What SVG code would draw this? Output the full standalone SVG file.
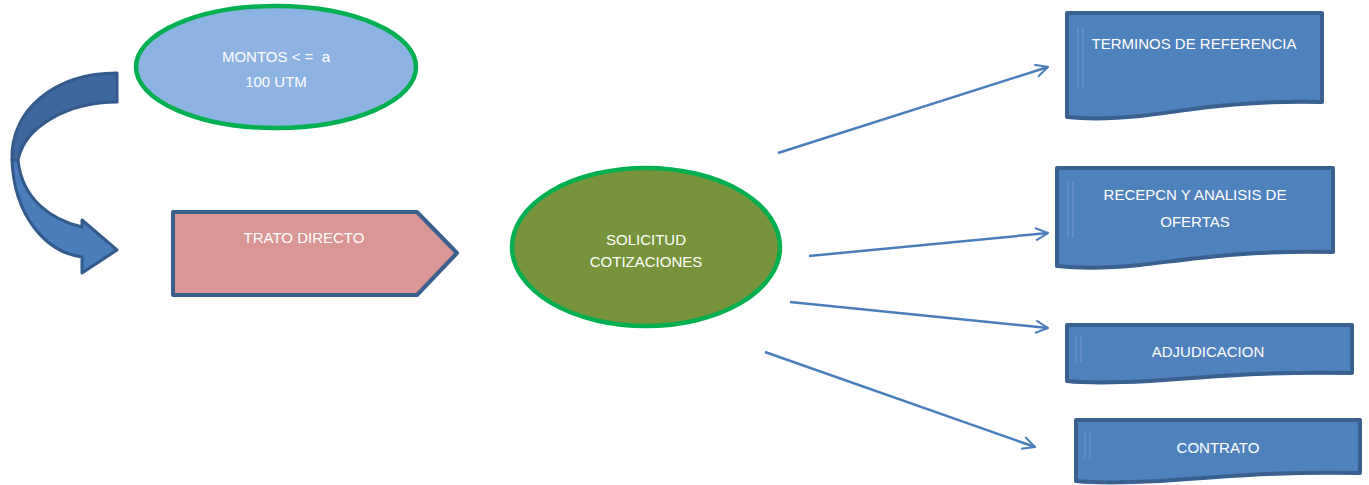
<svg xmlns="http://www.w3.org/2000/svg" width="1369" height="485" viewBox="0 0 1369 485">
<defs>
<style>
.t{font-family:"Liberation Sans",Arial,sans-serif;font-size:15px;fill:#ffffff;text-anchor:middle;white-space:pre}
.oval{stroke:#00B050;stroke-width:4.5}
.doc{fill:#4F81BD;stroke:#3A6090;stroke-width:4;stroke-linejoin:round}
.conn{fill:none;stroke:#4A7EBB;stroke-width:2.5}
.strip{stroke:#6A93C8;stroke-width:1.5}
</style>
<marker id="ah" viewBox="0 0 12 12" refX="11" refY="6" markerWidth="6" markerHeight="6" orient="auto" markerUnits="strokeWidth">
<path d="M1,1 L11,6 L1,11" fill="none" stroke="#4A7EBB" stroke-width="1.6"/>
</marker>
</defs>
<rect width="1369" height="485" fill="#ffffff"/>

<g id="curved-arrow">
<path d="M117,73 L117,102 C70,102 25,125 18,160 L12,160 C10,110 55,73 117,73 Z" fill="#3D679D" stroke="#335A8A" stroke-width="3" stroke-linejoin="round"/>
<path d="M12,160 C14,215 45,252 82,257 L82,273 L117,250 L82,220 L82,227 C52,220 22,200 18,160 Z" fill="#4A7DBA" stroke="#335A8A" stroke-width="3" stroke-linejoin="round"/>
</g>

<g id="montos">
<ellipse cx="276" cy="67" rx="140" ry="61" fill="#8DB3E2" class="oval"/>
<text class="t" x="276" y="62" xml:space="preserve">MONTOS &lt; =  a</text>
<text class="t" x="276" y="87">100 UTM</text>
</g>

<g id="trato">
<path d="M173,212 L417,212 L457,253 L417,295 L173,295 Z" fill="#D99694" stroke="#3A6090" stroke-width="4" stroke-linejoin="round"/>
<text class="t" x="304" y="243">TRATO DIRECTO</text>
</g>

<g id="solicitud">
<ellipse cx="646" cy="247" rx="134" ry="79" fill="#77933C" class="oval"/>
<text class="t" x="646" y="245">SOLICITUD</text>
<text class="t" x="646" y="267">COTIZACIONES</text>
</g>

<g id="terminos">
<path class="doc" d="M1067,13 L1322,13 L1322,102 C1230,100 1180,112 1140,116 C1110,119 1085,119 1067,117 Z"/>
<line class="strip" x1="1078" y1="28" x2="1078" y2="88"/>
<line class="strip" x1="1083" y1="28" x2="1083" y2="88"/>
<text class="t" x="1194" y="49">TERMINOS DE REFERENCIA</text>
</g>

<g id="recepcion">
<path class="doc" d="M1057,168 L1333,168 L1333,252 C1240,250 1185,260 1140,265 C1100,269 1075,268 1057,266 Z"/>
<line class="strip" x1="1068" y1="182" x2="1068" y2="238"/>
<line class="strip" x1="1073" y1="182" x2="1073" y2="238"/>
<text class="t" x="1195" y="200">RECEPCN Y ANALISIS DE</text>
<text class="t" x="1195" y="227">OFERTAS</text>
</g>

<g id="adjudicacion">
<path class="doc" d="M1067,325 L1352,325 L1352,373 C1260,371 1200,378 1150,381 C1110,383 1085,383 1067,381 Z"/>
<line class="strip" x1="1076" y1="337" x2="1076" y2="362"/>
<line class="strip" x1="1081" y1="337" x2="1081" y2="362"/>
<text class="t" x="1208" y="357">ADJUDICACION</text>
</g>

<g id="contrato">
<path class="doc" d="M1076,420 L1360,420 L1360,473 C1270,471 1210,478 1160,481 C1120,483 1095,483 1076,481 Z"/>
<line class="strip" x1="1085" y1="433" x2="1085" y2="458"/>
<line class="strip" x1="1090" y1="433" x2="1090" y2="458"/>
<text class="t" x="1218" y="453">CONTRATO</text>
</g>

<g id="connectors">
<line class="conn" x1="778" y1="153" x2="1048" y2="67" marker-end="url(#ah)"/>
<line class="conn" x1="809" y1="256" x2="1048" y2="233" marker-end="url(#ah)"/>
<line class="conn" x1="790" y1="302" x2="1048" y2="328" marker-end="url(#ah)"/>
<line class="conn" x1="765" y1="352" x2="1035" y2="447" marker-end="url(#ah)"/>
</g>
</svg>
